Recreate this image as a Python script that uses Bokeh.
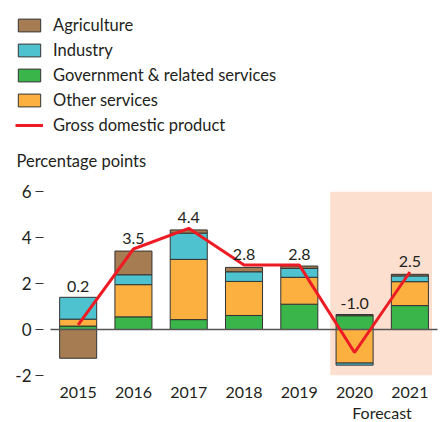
from bokeh.plotting import figure
from bokeh.layouts import column
from bokeh.models import Legend, LegendItem, FixedTicker, Range1d, Title, Label
from bokeh.embed import file_html
from bokeh.resources import INLINE
from bokeh.core.properties import value

# ---------------- data ----------------
years = ["2015", "2016", "2017", "2018", "2019", "2020", "2021"]
forecast_years = ["2020", "2021"]
agriculture = [-1.25, 1.03, 0.14, 0.19, 0.10, 0.05, 0.07]
industry = [0.95, 0.43, 1.14, 0.42, 0.39, -0.09, 0.25]
government = [0.15, 0.55, 0.43, 0.61, 1.10, 0.60, 1.04]
other_services = [0.30, 1.40, 2.62, 1.48, 1.17, -1.46, 1.04]
gdp = [0.2, 3.5, 4.4, 2.8, 2.8, -1.0, 2.5]
gdp_labels = ["0.2", "3.5", "4.4", "2.8", "2.8", "-1.0", "2.5"]
y_ticks = [-2, 0, 2, 4, 6]

# ---------------- style ----------------
FONT = "Lato"
TEXT = "#231F20"
C_AGR = "#A67C52"
C_IND = "#4EC3CF"
C_GOV = "#39B54A"
C_OTH = "#FBB040"
C_GDP = "#ED1C24"
C_FC = "#FDDFCF"
EDGE = "#333333"

W = 440
TOP_H = 175
MAIN_H = 422 - TOP_H

n = len(years)
xs = list(range(n))

series = [("Government & related services", government, C_GOV),
          ("Other services", other_services, C_OTH),
          ("Industry", industry, C_IND),
          ("Agriculture", agriculture, C_AGR)]

# stacking (computed from the data)
pos_base = [0.0] * n
neg_base = [0.0] * n
stacks = {}
for name, vals, color in series:
    bottoms, tops = [], []
    for i, v in enumerate(vals):
        if v >= 0:
            b = pos_base[i]; t = b + v; pos_base[i] = t
        else:
            b = neg_base[i]; t = b + v; neg_base[i] = t
        bottoms.append(b); tops.append(t)
    stacks[name] = (bottoms, tops)

# ================= header (legend + unit label) =================
top = figure(width=W, height=TOP_H, output_backend="svg", toolbar_location=None,
             x_range=Range1d(0, W), y_range=Range1d(TOP_H, 0),
             x_axis_location=None, y_axis_location=None, min_border=0)
top.outline_line_color = None
top.grid.visible = False

# legend keys: same glyph styles as the chart (hidden; only their legend swatches show)
keys = {}
for name, vals, color in series:
    b, t = stacks[name]
    keys[name] = top.vbar(x=xs, bottom=b, top=t, width=0.67, fill_color=color,
                          line_color=EDGE, line_width=1, visible=False)
keys["Gross domestic product"] = top.line(x=xs, y=gdp, line_color=C_GDP, line_width=3,
                                          visible=False)

legend_order = ["Agriculture", "Industry", "Government & related services",
                "Other services", "Gross domestic product"]
legend = Legend(items=[LegendItem(label=k, renderers=[keys[k]]) for k in legend_order],
                location="top_left", orientation="vertical",
                glyph_width=28, glyph_height=16, label_height=20, spacing=5,
                padding=0, margin=15, label_standoff=10,
                label_text_font=FONT, label_text_font_size="16.5px", label_text_color=TEXT,
                border_line_color=None, background_fill_alpha=0,
                inactive_fill_alpha=0)
top.add_layout(legend)

top.add_layout(Label(x=16, y=160, text="Percentage points", text_baseline="middle",
                     text_font=FONT, text_font_size="16.5px", text_color=TEXT))

# ================= main chart =================
p = figure(width=W, height=MAIN_H, output_backend="svg", toolbar_location=None,
           x_range=Range1d(-0.627, n - 0.446), y_range=Range1d(y_ticks[0], y_ticks[-1]),
           min_border_left=43, min_border_right=0, min_border_top=16, min_border_bottom=47)
p.title_location = None
p.outline_line_color = None
p.xgrid.visible = False
p.ygrid.visible = False
p.background_fill_color = "white"
p.border_fill_color = "white"

for fig in (top, p):
    if "frame_align" in fig.properties():
        fig.frame_align = False

# forecast shading
f0 = years.index(forecast_years[0])
f1 = years.index(forecast_years[-1])
p.quad(left=[f0 - 0.44], right=[f1 + 0.40], bottom=[y_ticks[0]], top=[y_ticks[-1]],
       fill_color=C_FC, line_color=None)

# stacked bars
for name, vals, color in series:
    b, t = stacks[name]
    p.vbar(x=xs, bottom=b, top=t, width=0.67, fill_color=color, line_color=EDGE, line_width=1)

# zero line
p.segment(x0=[-0.5], y0=[0], x1=[n - 0.5], y1=[0], line_color="#555555", line_width=1.5)

# GDP line
p.line(xs, gdp, line_color=C_GDP, line_width=3)

# value labels
label_y = [max(a, g) for a, g in zip(pos_base, gdp)]
p.text(x=xs, y=label_y, text=gdp_labels, text_align="center", text_baseline="alphabetic",
       y_offset=-11, text_font=value(FONT), text_font_size="16px", text_color=TEXT)

# axes
xa = p.xaxis[0]
xa.ticker = FixedTicker(ticks=xs)
xa.major_label_overrides = {i: y for i, y in enumerate(years)}
xa.axis_line_color = None
xa.major_tick_line_color = None
xa.minor_tick_line_color = None
xa.major_tick_out = 0
xa.major_tick_in = 0
xa.major_label_standoff = 11
xa.major_label_text_font = FONT
xa.major_label_text_font_size = "16px"
xa.major_label_text_color = TEXT

ya = p.yaxis[0]
ya.ticker = FixedTicker(ticks=y_ticks)
ya.major_label_overrides = {t: str(t) for t in y_ticks}
ya.axis_line_color = None
ya.minor_tick_line_color = None
ya.major_tick_line_color = EDGE
ya.major_tick_line_width = 1
ya.major_tick_out = 8
ya.major_tick_in = 0
ya.major_label_standoff = 4
ya.major_label_text_font = FONT
ya.major_label_text_font_size = "17px"
ya.major_label_text_color = TEXT

# "Forecast" note under the forecast years
fc_center_px = 43 + (((f0 + f1) / 2) + 0.627) * (397 / (n - 0.446 + 0.627))
p.add_layout(Title(text="Forecast", text_font=FONT, text_font_size="16px",
                   text_font_style="normal", text_color=TEXT, align="left",
                   offset=fc_center_px - 43 - 30, standoff=0), "below")

layout = column(top, p, spacing=0)
open("out.html", "w").write(file_html(layout, INLINE))
